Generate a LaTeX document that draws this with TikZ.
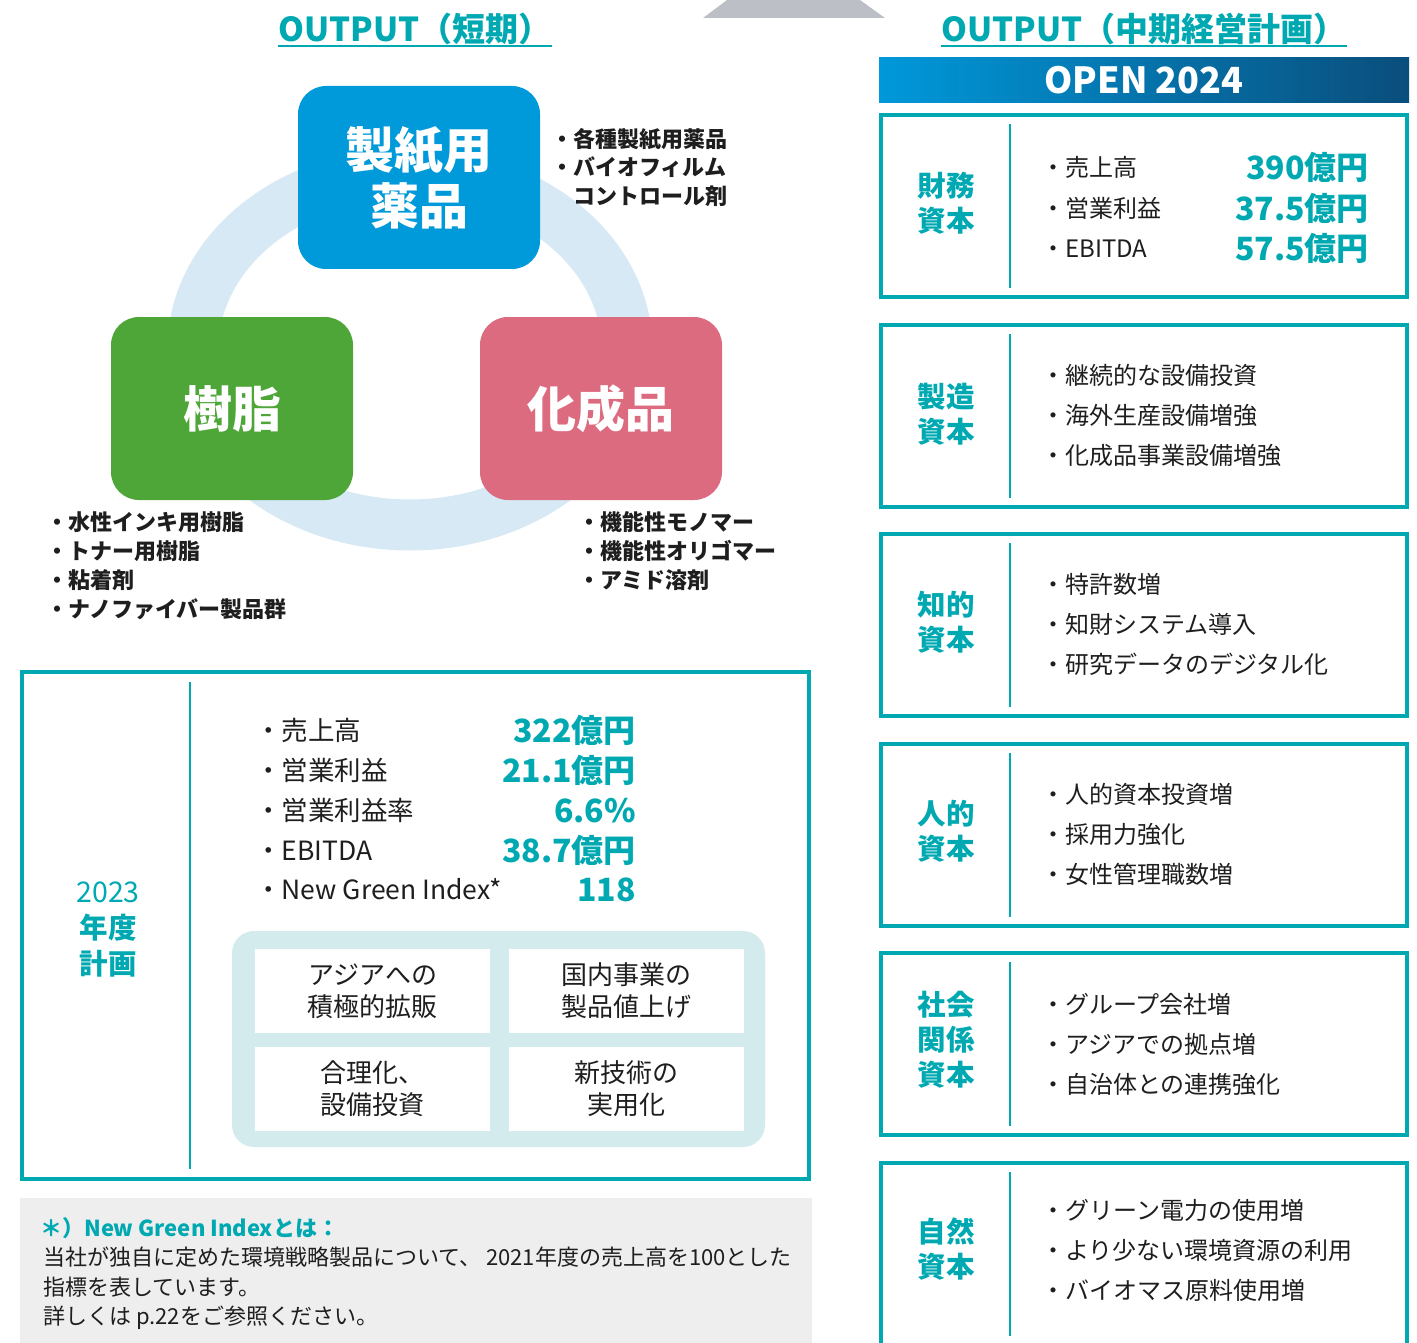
\documentclass[tikz,border=0pt]{standalone}
\usepackage{fontspec}
\setmainfont{Noto Sans CJK JP}
\usepackage{xcolor}
\usepackage{tikz}

\definecolor{tealc}{HTML}{00A9B2}
\definecolor{ringc}{HTML}{D6E9F5}
\definecolor{paperc}{HTML}{0099D9}
\definecolor{resinc}{HTML}{4EA638}
\definecolor{chemc}{HTML}{DC6B80}
\definecolor{panelc}{HTML}{D3EBED}
\definecolor{notec}{HTML}{EEEEEE}
\definecolor{trapc}{HTML}{BCBFC6}
\definecolor{barL}{HTML}{0098DA}
\definecolor{barR}{HTML}{0A4E7C}
\definecolor{inkc}{HTML}{1E1E1E}
\newcommand{\fsize}[2]{\fontsize{#1}{#2}\selectfont}

\begin{document}
\begin{tikzpicture}[x=1pt,y=-1pt]

	\tikzstyle{title}=[text=tealc,font=\fsize{33}{38}\bfseries,inner sep=0pt,anchor=base]
	\tikzstyle{product}=[rounded corners=28pt,minimum width=242pt,minimum height=183pt,text=white,font=\fsize{49}{56}\bfseries,align=center]
	\tikzstyle{sidelist}=[font=\fsize{22}{28}\bfseries,text=inkc,anchor=base west,inner sep=0pt]
	\tikzstyle{capbox}=[draw=tealc,line width=4pt,minimum width=526pt,minimum height=182pt]
	\tikzstyle{caplabel}=[text=tealc,font=\fsize{28.5}{35}\bfseries,align=center]
	\tikzstyle{capitem}=[font=\fsize{24}{28},text=inkc,anchor=base west,inner sep=0pt]
	\tikzstyle{capvalue}=[font=\fsize{32}{36}\bfseries,text=tealc,anchor=base east,inner sep=0pt]
	\tikzstyle{planitem}=[font=\fsize{26.5}{30},text=inkc,anchor=base west,inner sep=0pt]
	\tikzstyle{divider}=[tealc,line width=2.5pt]
	\tikzstyle{measure}=[fill=white,minimum width=235pt,minimum height=84pt,font=\fsize{26}{32},text=inkc,align=center,inner sep=0pt]
	\tikzstyle{notetext}=[font=\fsize{22}{28},text=inkc,anchor=base west,inner sep=0pt]

	\useasboundingbox (0,0) rectangle (1417,1343);

	% headings
	\fill[trapc] (703,18) -- (727,0) -- (860,0) -- (885,18) -- cycle;
	\node[title] (ttlS) at (415,42) {OUTPUT（短期）};
	\node[title] (ttlM) at (1144,42) {OUTPUT（中期経営計画）};
	\draw[tealc,line width=1.5pt] ([yshift=-4pt]ttlS.base west) -- ([yshift=-4pt]ttlS.base east);
	\draw[tealc,line width=1.5pt] ([yshift=-4pt]ttlM.base west) -- ([yshift=-4pt]ttlM.base east);

	% short term products
	\draw[ringc,line width=51pt] (410,349) ellipse[x radius=217pt,y radius=176pt];
	\node[product,fill=paperc] (paper) at (419,177.5) {製紙用\\薬品};
	\node[product,fill=resinc] (resin) at (232,408.5) {樹脂};
	\node[product,fill=chemc] (chem) at (601,408.5) {化成品};

	\node[sidelist] (pl1) at (551,148) {・各種製紙用薬品};
	\node[sidelist] (pl2) at (551,176) {・バイオフィルム};
	\node[sidelist] (pl3) at (573,205) {コントロール剤};

	\node[sidelist] (rl1) at (46,530) {・水性インキ用樹脂};
	\node[sidelist] (rl2) at (46,559) {・トナー用樹脂};
	\node[sidelist] (rl3) at (46,588) {・粘着剤};
	\node[sidelist] (rl4) at (46,617) {・ナノファイバー製品群};

	\node[sidelist] (cl1) at (578,530) {・機能性モノマー};
	\node[sidelist] (cl2) at (578,559) {・機能性オリゴマー};
	\node[sidelist] (cl3) at (578,588) {・アミド溶剤};

	% 2023 plan
	\node[capbox,minimum width=787pt,minimum height=507pt] (plan) at (415.5,925.5) {};
	\draw[divider] ([shift={(170pt,-12pt)}]plan.north west) -- ([shift={(170pt,12pt)}]plan.south west);
	\node[caplabel,font=\fsize{28.5}{36}] (planlbl) at (108,930) {2023\\\bfseries 年度\\\bfseries 計画};

	\node[planitem] (pi1) at (255,740) {・売上高};
	\node[planitem] (pi2) at (255,780) {・営業利益};
	\node[planitem] (pi3) at (255,820) {・営業利益率};
	\node[planitem] (pi4) at (255,860) {・EBITDA};
	\node[planitem] (pi5) at (255,899) {・New Green Index*};
	\node[capvalue] (pv1) at (636,742) {322億円};
	\node[capvalue] (pv2) at (636,782) {21.1億円};
	\node[capvalue] (pv3) at (636,822) {6.6\%};
	\node[capvalue] (pv4) at (636,862) {38.7億円};
	\node[capvalue] (pv5) at (636,901) {118};

	\node[fill=panelc,rounded corners=22pt,minimum width=533pt,minimum height=216pt] (panel) at (498.5,1039) {};
	\node[measure] (asia) at (372.5,991) {アジアへの\\積極的拡販};
	\node[measure] (price) at (626.5,991) {国内事業の\\製品値上げ};
	\node[measure] (ratio) at (372.5,1089) {合理化、\\設備投資};
	\node[measure] (tech) at (626.5,1089) {新技術の\\実用化};

	% footnote
	\node[fill=notec,minimum width=792pt,minimum height=148pt] (note) at (416,1272) {};
	\node[notetext,text=tealc,font=\fsize{22}{28}\bfseries] (ntHead) at (40,1236) {＊）New Green Indexとは：};
	\node[notetext] (ntL1) at (43,1265) {当社が独自に定めた環境戦略製品について、 2021年度の売上高を100とした};
	\node[notetext] (ntL2) at (43,1295) {指標を表しています。};
	\node[notetext] (ntL3) at (43,1324) {詳しくは p.22をご参照ください。};

	% mid term plan
	\node[left color=barL,right color=barR,minimum width=530pt,minimum height=45pt,inner sep=0pt,text=white,font=\fsize{36}{40}\bfseries] (bar) at (1144,80.5) {OPEN 2024};

	\node[capbox] (fin) at (1144,206) {};
	\draw[divider] ([shift={(131pt,-11pt)}]fin.north west) -- ([shift={(131pt,11pt)}]fin.south west);
	\node[caplabel] (finlbl) at (946,203) {財務\\資本};
	\node[capitem] (fi1) at (1041,177) {・売上高};
	\node[capitem] (fi2) at (1041,218) {・営業利益};
	\node[capitem] (fi3) at (1041,258) {・EBITDA};
	\node[capvalue] (fv1) at (1369,180) {390億円};
	\node[capvalue] (fv2) at (1369,221) {37.5億円};
	\node[capvalue] (fv3) at (1369,261) {57.5億円};

	\node[capbox] (mfg) at (1144,415.5) {};
	\draw[divider] ([shift={(131pt,-11pt)}]mfg.north west) -- ([shift={(131pt,11pt)}]mfg.south west);
	\node[caplabel] (mfglbl) at (946,414) {製造\\資本};
	\node[capitem] (mi1) at (1041,384) {・継続的な設備投資};
	\node[capitem] (mi2) at (1041,424) {・海外生産設備増強};
	\node[capitem] (mi3) at (1041,464) {・化成品事業設備増強};

	\node[capbox] (ipc) at (1144,625) {};
	\draw[divider] ([shift={(131pt,-11pt)}]ipc.north west) -- ([shift={(131pt,11pt)}]ipc.south west);
	\node[caplabel] (ipclbl) at (946,622) {知的\\資本};
	\node[capitem] (ii1) at (1041,593) {・特許数増};
	\node[capitem] (ii2) at (1041,633) {・知財システム導入};
	\node[capitem] (ii3) at (1041,673) {・研究データのデジタル化};

	\node[capbox] (hum) at (1144,834.5) {};
	\draw[divider] ([shift={(131pt,-11pt)}]hum.north west) -- ([shift={(131pt,11pt)}]hum.south west);
	\node[caplabel] (humlbl) at (946,831) {人的\\資本};
	\node[capitem] (hi1) at (1041,803) {・人的資本投資増};
	\node[capitem] (hi2) at (1041,843) {・採用力強化};
	\node[capitem] (hi3) at (1041,883) {・女性管理職数増};

	\node[capbox] (soc) at (1144,1044) {};
	\draw[divider] ([shift={(131pt,-11pt)}]soc.north west) -- ([shift={(131pt,11pt)}]soc.south west);
	\node[caplabel] (soclbl) at (946,1040) {社会\\関係\\資本};
	\node[capitem] (si1) at (1041,1013) {・グループ会社増};
	\node[capitem] (si2) at (1041,1053) {・アジアでの拠点増};
	\node[capitem] (si3) at (1041,1093) {・自治体との連携強化};

	\node[capbox] (nat) at (1144,1253.5) {};
	\draw[divider] ([shift={(131pt,-11pt)}]nat.north west) -- ([shift={(131pt,11pt)}]nat.south west);
	\node[caplabel] (natlbl) at (946,1249) {自然\\資本};
	\node[capitem] (ni1) at (1041,1219) {・グリーン電力の使用増};
	\node[capitem] (ni2) at (1041,1259) {・より少ない環境資源の利用};
	\node[capitem] (ni3) at (1041,1299) {・バイオマス原料使用増};

\end{tikzpicture}
\end{document}
